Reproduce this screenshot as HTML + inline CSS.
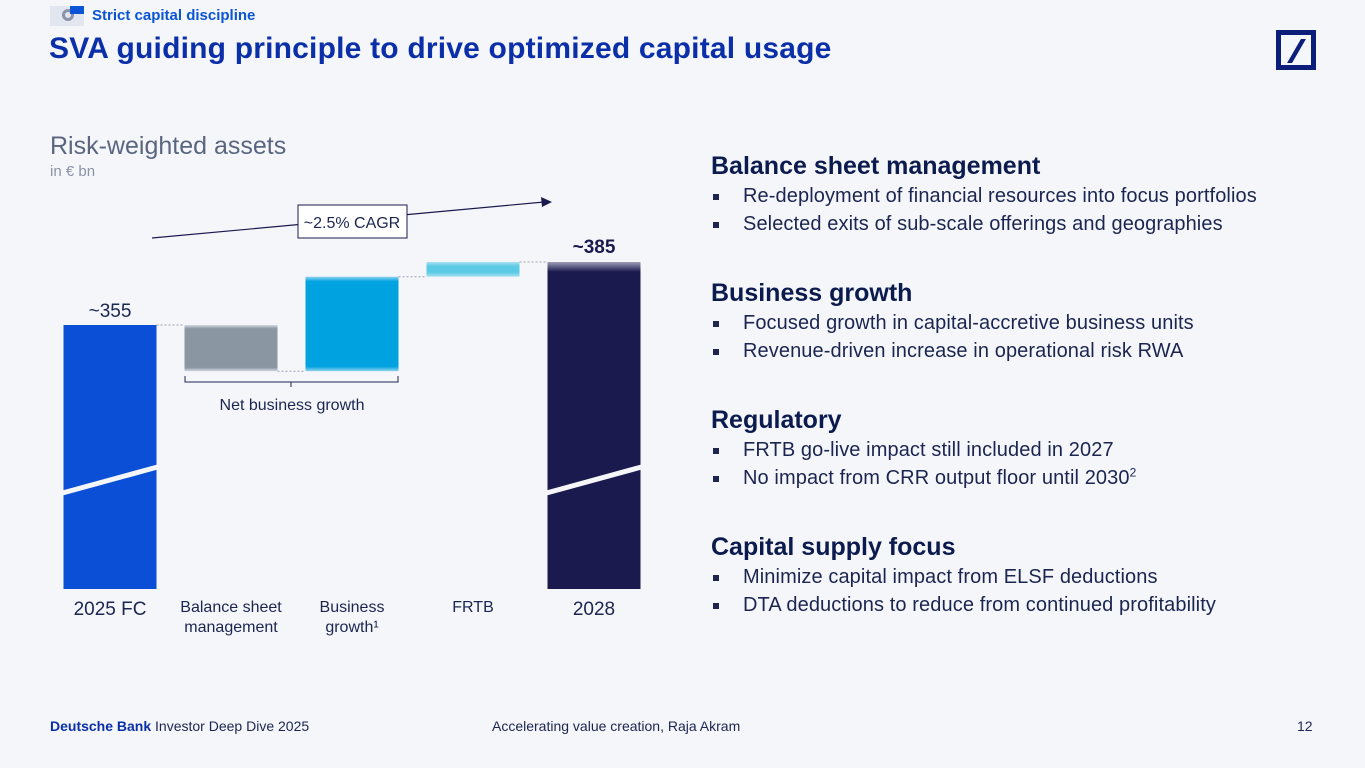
<!DOCTYPE html>
<html><head><meta charset="utf-8">
<style>
*{margin:0;padding:0;box-sizing:border-box}
body{width:1365px;height:768px;background:#f5f6fa;font-family:"Liberation Sans",sans-serif;position:relative;overflow:hidden;color:#0a1a4a}
.abs{position:absolute;white-space:nowrap}
.h{font-size:25px;font-weight:bold;color:#0b1b4d;height:30px}
.b{font-size:20px;color:#1b2550;letter-spacing:0.1px}
.b li{list-style:none;position:relative;padding-left:32px;height:28px}
.b li:before{content:"";position:absolute;left:2px;top:9px;width:6px;height:6px;background:#1b2550}
</style></head><body>
<div class="abs" style="left:50px;top:6px;width:34px;height:20px;background:#e2e6ef">
 <div style="position:absolute;left:12px;top:3px;width:12px;height:12px;border:3px solid #8a94a8;border-radius:50%"></div>
 <div style="position:absolute;left:20px;top:0;width:14px;height:8px;background:#0a55d6"></div>
</div>
<div class="abs" style="left:92px;top:7px;font-size:15px;font-weight:bold;color:#0a55d6">Strict capital discipline</div>
<div class="abs" style="left:49px;top:32px;font-size:30px;font-weight:bold;color:#0a2fa8;letter-spacing:0.2px">SVA guiding principle to drive optimized capital usage</div>
<div class="abs" style="left:1276px;top:30px;width:40px;height:40px;border:5px solid #0a1e7a">
 <div style="position:absolute;left:13px;top:4px;width:5px;height:24px;background:#0a1e7a;transform:skewX(-30deg)"></div>
</div>
<div class="abs" style="left:50px;top:132px;font-size:25px;color:#5a6680">Risk-weighted assets</div>
<div class="abs" style="left:50px;top:163px;font-size:15px;color:#8a93a8">in € bn</div>

<svg class="abs" style="left:0;top:0" width="700" height="660" id="chart">
<defs>
<linearGradient id="fadeG" x1="0" y1="0" x2="0" y2="1"><stop offset="0" stop-color="#8b96a3" stop-opacity="0.3"/><stop offset="0.08" stop-color="#8b96a3"/><stop offset="0.92" stop-color="#8b96a3"/><stop offset="1" stop-color="#8b96a3" stop-opacity="0.3"/></linearGradient>
<linearGradient id="fadeB" x1="0" y1="0" x2="0" y2="1"><stop offset="0" stop-color="#00a2e0" stop-opacity="0.4"/><stop offset="0.05" stop-color="#00a2e0"/><stop offset="0.95" stop-color="#00a2e0"/><stop offset="1" stop-color="#00a2e0" stop-opacity="0.4"/></linearGradient>
<linearGradient id="fadeC" x1="0" y1="0" x2="0" y2="1"><stop offset="0" stop-color="#5ccbe6" stop-opacity="0.5"/><stop offset="0.3" stop-color="#5ccbe6"/><stop offset="0.7" stop-color="#5ccbe6"/><stop offset="1" stop-color="#5ccbe6" stop-opacity="0.5"/></linearGradient>
<linearGradient id="fadeN" x1="0" y1="0" x2="0" y2="1"><stop offset="0" stop-color="#1b1a4f" stop-opacity="0.4"/><stop offset="0.03" stop-color="#1b1a4f"/><stop offset="1" stop-color="#1b1a4f"/></linearGradient>
</defs>
<line x1="152" y1="238" x2="544" y2="202" stroke="#1b1a4f" stroke-width="1.2"/>
<polygon points="552,202 541,197 542,207" fill="#1b1a4f"/>
<rect x="298" y="205" width="109" height="33" fill="#fff" stroke="#1b1a4f" stroke-width="1"/>
<text x="352" y="228" font-size="16" text-anchor="middle" fill="#1b2550" font-family="Liberation Sans">~2.5% CAGR</text>
<path d="M185,376 V382 H398 V376 M291,382 V387" fill="none" stroke="#1b2550" stroke-width="1"/>
<text x="292" y="410" font-size="16" text-anchor="middle" fill="#1b2550" font-family="Liberation Sans">Net business growth</text>
</svg>

<div class="abs" style="left:50px;top:718px;font-size:14px;color:#1b2550"><b style="color:#0a2fa8">Deutsche Bank</b> Investor Deep Dive 2025</div>
<div class="abs" style="left:492px;top:718px;font-size:14px;color:#1b2550">Accelerating value creation, Raja Akram</div>
<div class="abs" style="left:1297px;top:718px;font-size:14px;color:#1b2550">12</div>

<div class="abs" style="left:711px;top:152px">
 <div class="h">Balance sheet management</div>
 <ul class="b" style="margin-top:3px"><li>Re-deployment of financial resources into focus portfolios</li><li>Selected exits of sub-scale offerings and geographies</li></ul>
 <div class="h" style="margin-top:38px">Business growth</div>
 <ul class="b" style="margin-top:3px"><li>Focused growth in capital-accretive business units</li><li>Revenue-driven increase in operational risk RWA</li></ul>
 <div class="h" style="margin-top:38px">Regulatory</div>
 <ul class="b" style="margin-top:3px"><li>FRTB go-live impact still included in 2027</li><li>No impact from CRR output floor until 2030<sup style="font-size:12px;line-height:0">2</sup></li></ul>
 <div class="h" style="margin-top:38px">Capital supply focus</div>
 <ul class="b" style="margin-top:3px"><li>Minimize capital impact from ELSF deductions</li><li>DTA deductions to reduce from continued profitability</li></ul>
</div>

<script>
const categories = ["2025 FC", "Balance sheet|management", "Business|growth¹", "FRTB", "2028"];
const startValue = 355;
const deltas = [-22, 45, 7];
const endValue = 385;
const totalLabels = ["~355", "~385"];

const NS = "http://www.w3.org/2000/svg";
const svg = document.getElementById("chart");
const baseY = 589;
function y(v){ return 325 - (v - 355) * 2.1; }
function xc(i){ return 110 + i * 121; }
const bw = 93;
function rect(x, y0, w, h, fill, name){
  const r = document.createElementNS(NS, "rect");
  r.setAttribute("x", x); r.setAttribute("y", y0); r.setAttribute("width", w); r.setAttribute("height", h); r.setAttribute("fill", fill);
  
  
  svg.appendChild(r);
}
function text(x, y0, s, size, anchor, weight, fill, name){
  const t = document.createElementNS(NS, "text");
  t.setAttribute("x", x); t.setAttribute("y", y0); t.setAttribute("font-size", size); t.setAttribute("text-anchor", anchor);
  t.setAttribute("font-weight", weight); t.setAttribute("fill", fill); t.setAttribute("font-family", "Liberation Sans");
  t.textContent = s;
  
  
  svg.appendChild(t);
}
function dash(x1, x2, yy){
  const l = document.createElementNS(NS, "line");
  l.setAttribute("x1", x1); l.setAttribute("x2", x2); l.setAttribute("y1", yy); l.setAttribute("y2", yy);
  l.setAttribute("stroke", "#9aa2b3"); l.setAttribute("stroke-dasharray", "2,2"); l.setAttribute("stroke-width", "1");
  
  
  svg.appendChild(l);
}
function brk(i){
  const l = document.createElementNS(NS, "line");
  l.setAttribute("x1", xc(i) - bw/2 - 1); l.setAttribute("y1", 493); l.setAttribute("x2", xc(i) + bw/2 + 1); l.setAttribute("y2", 467);
  l.setAttribute("stroke", "#f5f6fa"); l.setAttribute("stroke-width", "5");
  
  
  svg.appendChild(l);
}
rect(xc(0) - bw/2, y(startValue), bw, baseY - y(startValue), "#0a4fd6", "bar-2025-fc");
text(xc(0), y(startValue) - 8, totalLabels[0], 19, "middle", "normal", "#1b2550", "label-2025-fc");
brk(0);
const fills = ["url(#fadeG)", "url(#fadeB)", "url(#fadeC)"];
const names = ["bar-balance-sheet", "bar-business-growth", "bar-frtb"];
let cur = startValue;
for (let k = 0; k < deltas.length; k++) {
  const i = k + 1;
  const nxt = cur + deltas[k];
  const top = y(Math.max(cur, nxt)), bot = y(Math.min(cur, nxt));
  dash(xc(i - 1) + bw/2, xc(i) - bw/2, y(cur));
  rect(xc(i) - bw/2, top, bw, bot - top, fills[k], names[k]);
  cur = nxt;
}
dash(xc(3) + bw/2, xc(4) - bw/2, y(cur));
rect(xc(4) - bw/2, y(endValue), bw, baseY - y(endValue), "url(#fadeN)", "bar-2028");
text(xc(4), y(endValue) - 9, totalLabels[1], 19, "middle", "bold", "#1b1a4f", "label-2028");
brk(4);
categories.forEach((c, i) => {
  const parts = c.split("|");
  const big = (i === 0 || i === 4);
  parts.forEach((p, j) => {
    text(xc(i), big ? 615 : 612 + j * 20, p, big ? 19 : 16, "middle", "normal", "#1b2550", "x-label");
  });
});
</script>
</body></html>
